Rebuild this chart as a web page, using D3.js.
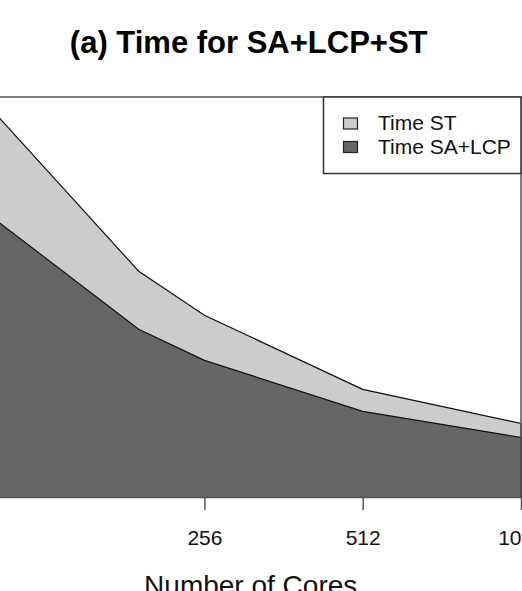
<!DOCTYPE html>
<html>
<head>
<meta charset="utf-8">
<script src="https://cdn.jsdelivr.net/npm/d3@7"></script>
<style>
  body { margin: 0; background: #fff; overflow: hidden; }
  text { font-family: "Liberation Sans", Arial, sans-serif; }
</style>
</head>
<body>
<div id="chart"></div>
<script>
// data (time, arbitrary units)
var cores = [96, 192, 256, 512, 1024];
var timeSaLcp = [578, 336, 274, 172, 120];
var timeSt = [222, 116, 90, 44, 28];
var xTicks = [256, 512, 1024];
var legendLabels = ["Time ST", "Time SA+LCP"];
var fills = ["#cccccc", "#666666"];

// plot region (left part falls outside the window, as in the source crop)
var W = 522, H = 591;
var plot = {left: -19.6, right: 521, top: 97, bottom: 497.5};

var svg = d3.select("#chart")
  .append("svg")
    .attr("width", W)
    .attr("height", H);

var data = cores.map(function(c, i) {
  return {cores: c, sa: timeSaLcp[i], st: timeSt[i]};
});

var x = d3.scaleLog()
  .base(2)
  .domain(d3.extent(cores))
  .range([plot.left, plot.right]);

var y = d3.scaleLinear()
  .domain([0, d3.max(data, function(d) { return d.sa + d.st; })])
  .range([plot.bottom, plot.top]);

// total area (ST on top of SA+LCP)
var areaTotal = d3.area()
  .x(function(d) { return x(d.cores); })
  .y0(y(0))
  .y1(function(d) { return y(d.sa + d.st); });

var areaSa = d3.area()
  .x(function(d) { return x(d.cores); })
  .y0(y(0))
  .y1(function(d) { return y(d.sa); });

svg.append("path")
  .datum(data)
  .attr("d", areaTotal)
  .attr("fill", fills[0])
  .attr("stroke", "#111")
  .attr("stroke-width", 1.2);

svg.append("path")
  .datum(data)
  .attr("d", areaSa)
  .attr("fill", fills[1])
  .attr("stroke", "#111")
  .attr("stroke-width", 1.2);

// box
svg.append("rect")
  .attr("x", plot.left)
  .attr("y", plot.top)
  .attr("width", plot.right - plot.left)
  .attr("height", plot.bottom - plot.top)
  .attr("fill", "none")
  .attr("stroke", "#555")
  .attr("stroke-width", 1.5);

// X axis
var xAxis = svg.append("g")
  .attr("transform", "translate(0," + (plot.bottom + 0.5) + ")")
  .call(d3.axisBottom(x)
    .tickValues(xTicks)
    .tickFormat(d3.format("d"))
    .tickSize(12)
    .tickPadding(20));
xAxis.select(".domain").remove();
xAxis.selectAll(".tick line")
  .attr("stroke", "#555")
  .attr("stroke-width", 1.5);
xAxis.selectAll("text")
  .attr("font-size", 21)
  .attr("fill", "#111")
  .style("font-family", "'Liberation Sans', Arial, sans-serif");

// X axis label
svg.append("text")
  .attr("text-anchor", "middle")
  .attr("x", (plot.left + plot.right) / 2)
  .attr("y", 595)
  .attr("font-size", 28)
  .attr("fill", "#111")
  .text("Number of Cores");

// title
svg.append("text")
  .attr("text-anchor", "middle")
  .attr("x", (plot.left + plot.right) / 2 - 2)
  .attr("y", 53)
  .attr("font-size", 31)
  .attr("font-weight", "bold")
  .attr("fill", "#000")
  .text("(a) Time for SA+LCP+ST");

// legend
var legend = svg.append("g");
legend.append("rect")
  .attr("x", 323.5)
  .attr("y", plot.top)
  .attr("width", plot.right - 323.5)
  .attr("height", 76.5)
  .attr("fill", "#fff")
  .attr("stroke", "#333")
  .attr("stroke-width", 1.5);

legendLabels.forEach(function(lab, i) {
  legend.append("rect")
    .attr("x", 343.5)
    .attr("y", 118 + i * 23.5)
    .attr("width", 14)
    .attr("height", 11)
    .attr("fill", fills[i])
    .attr("stroke", "#222")
    .attr("stroke-width", 1.2);
  legend.append("text")
    .attr("x", 378)
    .attr("y", 130 + i * 23.5)
    .attr("font-size", 21)
    .attr("fill", "#111")
    .text(lab);
});
</script>
</body>
</html>
